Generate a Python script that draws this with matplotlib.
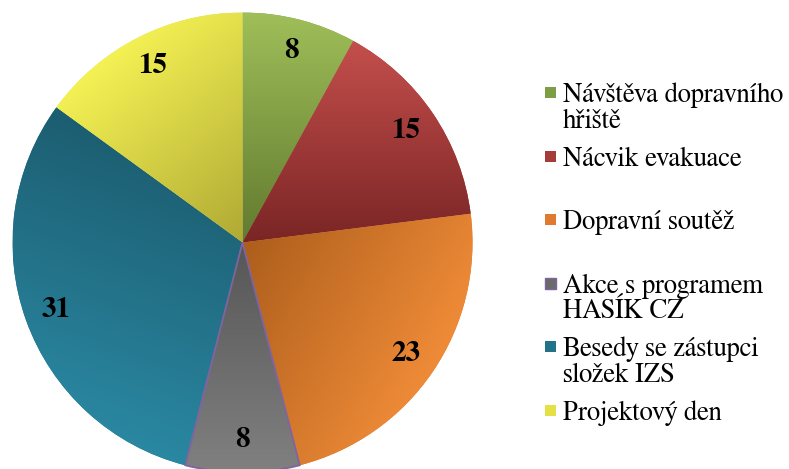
import numpy as np
import matplotlib
matplotlib.use("Agg")
import matplotlib.pyplot as plt
from matplotlib.colors import LinearSegmentedColormap
from matplotlib.patches import Rectangle, Wedge

# ---- data ----
categories = ["Návštěva dopravního\nhřiště", "Nácvik evakuace", "Dopravní soutěž",
              "Akce s programem\nHASÍK CZ", "Besedy se zástupci\nsložek IZS", "Projektový den"]
values = [8, 15, 23, 8, 31, 15]

# gradient styling per slice: (start colour, end colour, gradient direction in degrees)
grad_start = ["#9fbf59", "#c44f4c", "#ad5e1c", "#565656", "#1c5d70", "#f4f254"]
grad_end = ["#627a2f", "#7a2525", "#f08c38", "#808080", "#2a88a2", "#b0a934"]
grad_angle = [-90, -90, -30, -90, -110, -50]
legend_colors = ["#7e9e45", "#a53c3a", "#e07a2e", "#6a6a6a", "#22738a", "#e4e045"]

SERIF = ["FreeSerif", "Liberation Serif", "DejaVu Serif"]
plt.rcParams["font.family"] = SERIF

W, H = 789, 469
fig = plt.figure(figsize=(W / 100, H / 100), dpi=100)
cx, cy, R = 242.5, 242.5, 230
ax = fig.add_axes([(cx - R) / W, (H - cy - R) / H, 2 * R / W, 2 * R / H])

total = sum(values)
wedges, texts, autotexts = ax.pie(
    values, startangle=90, counterclock=False,
    colors=legend_colors,
    autopct=lambda p: f"{p * total / 100:.0f}", pctdistance=0.86,
    textprops=dict(family=SERIF, weight="bold", size=21, color="black"),
    wedgeprops=dict(linewidth=0))
for t in autotexts:
    t.set_zorder(5)

N = 500
xs = np.linspace(-1, 1, N)
X, Y = np.meshgrid(xs, xs)
for w, c0, c1, a in zip(wedges, grad_start, grad_end, grad_angle):
    d = np.array([np.cos(np.radians(a)), np.sin(np.radians(a))])
    verts = w.get_path().vertices
    proj_v = verts @ d
    pmin, pmax = proj_v.min(), proj_v.max()
    T = np.clip(((X * d[0] + Y * d[1]) - pmin) / (pmax - pmin), 0, 1)
    cmap = LinearSegmentedColormap.from_list("g", [c0, c1])
    im = ax.imshow(T, cmap=cmap, vmin=0, vmax=1, extent=(-1, 1, -1, 1),
                   origin="lower", zorder=1.5, interpolation="bilinear")
    im.set_clip_path(w)

# purple outline of the grey slice
g = wedges[3]
ax.add_patch(Wedge(g.center, g.r, g.theta1, g.theta2, fill=False,
                   edgecolor="#8064a2", linewidth=1.3, zorder=2))

ax.set_xlim(-1, 1)
ax.set_ylim(-1, 1)
ax.set_aspect("equal")
ax.axis("off")

# ---- legend (manual, Excel-like slots) ----
slot0, slot_step = 92.5, 63.6
line_step = 25.5
sq = 11
for i, (lab, col) in enumerate(zip(categories, legend_colors)):
    yc = slot0 + i * slot_step
    fig.add_artist(Rectangle(((545) / W, (H - yc - sq / 2) / H), sq / W, sq / H,
                             transform=fig.transFigure, facecolor=col,
                             edgecolor="#8064a2" if i == 3 else "none",
                             linewidth=1.0))
    for j, line in enumerate(lab.split("\n")):
        fig.text(563 / W, (H - (yc + 9.5 + j * line_step)) / H, line,
                 family=SERIF, size=19.3, color="black",
                 ha="left", va="baseline")

fig.savefig("out.png", dpi=100)
